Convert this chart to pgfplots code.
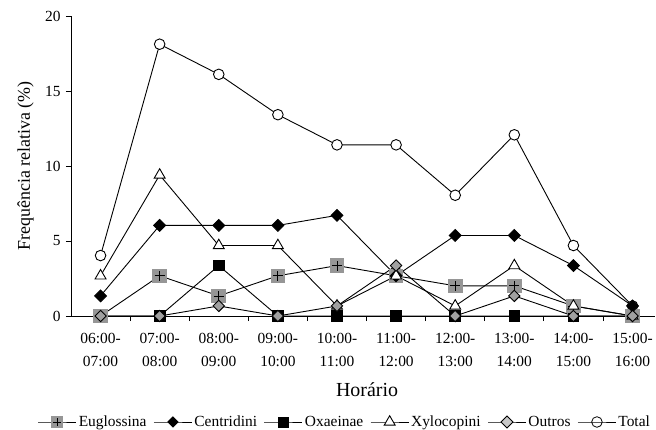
\documentclass[border=0pt]{standalone}
\usepackage{fontspec}
\setmainfont{Liberation Serif}
\usepackage{pgfplots}
\pgfplotsset{compat=1.18}
\definecolor{euggray}{RGB}{150,150,150}
\definecolor{outgray}{RGB}{160,160,160}
\definecolor{leggray}{RGB}{200,200,200}
\pgfdeclareplotmark{sqplus}{%
  \pgfpathrectangle{\pgfpoint{-\pgfplotmarksize}{-\pgfplotmarksize}}{\pgfpoint{2\pgfplotmarksize}{2\pgfplotmarksize}}%
  \pgfsetfillcolor{euggray}\pgfusepathqfill
  \pgfpathmoveto{\pgfpoint{-0.68\pgfplotmarksize}{0pt}}\pgfpathlineto{\pgfpoint{0.68\pgfplotmarksize}{0pt}}%
  \pgfpathmoveto{\pgfpoint{0pt}{-0.68\pgfplotmarksize}}\pgfpathlineto{\pgfpoint{0pt}{0.68\pgfplotmarksize}}%
  \pgfusepathqstroke}
\begin{document}
\begin{tikzpicture}
\path[use as bounding box] (-71bp,-114bp) rectangle (585bp,316bp);
\begin{axis}[
  at={(0,0)}, anchor=south west, scale only axis,
  width=584bp, height=300bp,
  xmin=-0.5, xmax=9.38, ymin=0, ymax=20, clip=false,
  axis x line=bottom, axis y line=left,
  axis line style={-, line width=0.8bp},
  every tick/.style={black, line width=0.8bp},
  tick align=outside,
  xtick={0,...,9},
  major x tick style={draw=none},
  minor xtick={0.5,1.5,...,8.5},
  minor tick length=5bp,
  major tick length=5bp,
  ytick={0,5,10,15,20},
  xticklabels={{06:00-\\07:00},{07:00-\\08:00},{08:00-\\09:00},{09:00-\\10:00},{10:00-\\11:00},{11:00-\\12:00},{12:00-\\13:00},{13:00-\\14:00},{14:00-\\15:00},{15:00-\\16:00}},
  /pgf/number format/assume math mode=true,
  tick label style={font=\fontsize{15.5}{23}\selectfont},
  x tick label style={align=center, anchor=north, yshift=-9bp},
  y tick label style={xshift=-2bp},
  xlabel={Horário},
  xlabel style={at={(axis description cs:0.507,-0.2467)}, anchor=center, font=\fontsize{20}{22}\selectfont},
  ylabel={Frequência relativa (\%)},
  ylabel style={at={(axis description cs:-0.078,0.5)}, anchor=center, font=\fontsize{18}{20}\selectfont},
  legend style={at={(axis description cs:0.469,-0.3533)}, anchor=center, draw=none, fill=none,
    font=\fontsize{15.5}{18}\selectfont, inner sep=0pt,
    /tikz/every even column/.append style={column sep=5bp}},
  legend columns=6,
  legend image code/.code={\draw[mark repeat=2,mark phase=2,#1] plot coordinates {(0bp,0bp) (19bp,0bp) (38bp,0bp)};},
  every axis plot/.append style={black, line width=0.9bp, mark options={solid, line width=0.8bp}},
]
% legend entries (in the reference's order)
\addlegendimage{black, line width=0.9bp, mark=sqplus, mark size=6bp}
\addlegendentry{Euglossina}
\addlegendimage{black, line width=0.9bp, mark=square*, mark size=3.6bp, mark options={rotate=45, fill=black}}
\addlegendentry{Centridini}
\addlegendimage{black, line width=0.9bp, mark=square*, mark size=5bp, mark options={fill=black}}
\addlegendentry{Oxaeinae}
\addlegendimage{black, line width=0.9bp, mark=triangle*, mark size=6.3bp, mark options={fill=white}}
\addlegendentry{Xylocopini}
\addlegendimage{black, line width=0.9bp, mark=square*, mark size=4.2bp, mark options={rotate=45, fill=leggray}}
\addlegendentry{Outros}
\addlegendimage{black, line width=0.9bp, mark=o, mark size=5.3bp}
\addlegendentry{Total}
% Total
\addplot[forget plot, mark=*, mark size=5.3bp, mark options={fill=white}] coordinates {
(0,4.03) (1,18.12) (2,16.11) (3,13.42) (4,11.41) (5,11.41) (6,8.05) (7,12.08) (8,4.70) (9,0.67)};
% Oxaeinae
\addplot[forget plot, mark=square*, mark size=5.3bp, mark options={fill=black}] coordinates {
(0,0) (1,0) (2,3.36) (3,0) (4,0) (5,0) (6,0) (7,0) (8,0) (9,0)};
% Euglossina
\addplot[forget plot, mark=sqplus, mark size=7.3bp] coordinates {
(0,0) (1,2.68) (2,1.34) (3,2.68) (4,3.36) (5,2.68) (6,2.01) (7,2.01) (8,0.67) (9,0)};
% Centridini
\addplot[forget plot, mark=square*, mark size=4.2bp, mark options={rotate=45, fill=black}] coordinates {
(0,1.34) (1,6.04) (2,6.04) (3,6.04) (4,6.71) (5,2.68) (6,5.37) (7,5.37) (8,3.36) (9,0.67)};
% Xylocopini
\addplot[forget plot, mark=triangle*, mark size=6.3bp, mark options={fill=white}] coordinates {
(0,2.68) (1,9.40) (2,4.70) (3,4.70) (4,0.67) (5,2.68) (6,0.67) (7,3.36) (8,0.67) (9,0)};
% Outros
\addplot[forget plot, mark=square*, mark size=4.0bp, mark options={rotate=45, fill=outgray}] coordinates {
(0,0) (1,0) (2,0.67) (3,0) (4,0.67) (5,3.36) (6,0) (7,1.34) (8,0) (9,0)};
\end{axis}
\end{tikzpicture}
\end{document}
